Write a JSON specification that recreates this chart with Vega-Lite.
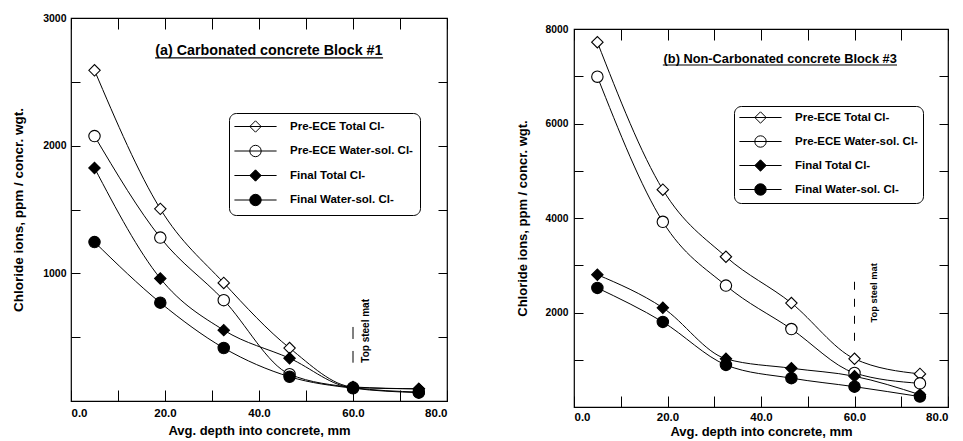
{
  "$schema": "https://vega.github.io/schema/vega-lite/v6.json",
  "background": "white",
  "padding": {"left": 11, "top": 12, "right": 0, "bottom": 0},
  "spacing": 66,
  "config": {
    "font": "Liberation Sans",
    "view": {"stroke": "black", "strokeWidth": 1.2},
    "axis": {
      "grid": false,
      "domain": false,
      "ticks": true,
      "tickColor": "black",
      "tickWidth": 1,
      "tickOpacity": 1,
      "labelColor": "black",
      "titleColor": "black",
      "labelFont": "Liberation Sans",
      "titleFont": "Liberation Sans",
      "labelFontWeight": "bold",
      "titleFontWeight": "bold",
      "zindex": 1
    },
    "legend": {
      "strokeColor": "black",
      "cornerRadius": 7,
      "padding": 7,
      "fillColor": "white",
      "labelFont": "Liberation Sans",
      "labelFontWeight": "bold",
      "labelFontSize": 11.5,
      "labelColor": "black",
      "symbolSize": 130,
      "rowPadding": 7.5,
      "symbolOffset": 13,
      "labelOffset": 28,
      "symbolStrokeWidth": 1,
      "symbolStrokeColor": "black"
    }
  },
  "datasets": {
    "chloride": [
      {"block": "a", "series": "Pre-ECE Total Cl-", "depth": 5, "chloride": 2590},
      {"block": "a", "series": "Pre-ECE Total Cl-", "depth": 19, "chloride": 1505},
      {"block": "a", "series": "Pre-ECE Total Cl-", "depth": 32.5, "chloride": 925},
      {"block": "a", "series": "Pre-ECE Total Cl-", "depth": 46.5, "chloride": 415},
      {"block": "a", "series": "Pre-ECE Total Cl-", "depth": 60, "chloride": 110},
      {"block": "a", "series": "Pre-ECE Total Cl-", "depth": 74, "chloride": 95},
      {"block": "a", "series": "Pre-ECE Water-sol. Cl-", "depth": 5, "chloride": 2075},
      {"block": "a", "series": "Pre-ECE Water-sol. Cl-", "depth": 19, "chloride": 1280},
      {"block": "a", "series": "Pre-ECE Water-sol. Cl-", "depth": 32.5, "chloride": 790},
      {"block": "a", "series": "Pre-ECE Water-sol. Cl-", "depth": 46.5, "chloride": 210},
      {"block": "a", "series": "Pre-ECE Water-sol. Cl-", "depth": 60, "chloride": 105},
      {"block": "a", "series": "Pre-ECE Water-sol. Cl-", "depth": 74, "chloride": 70},
      {"block": "a", "series": "Final Total Cl-", "depth": 5, "chloride": 1825},
      {"block": "a", "series": "Final Total Cl-", "depth": 19, "chloride": 960},
      {"block": "a", "series": "Final Total Cl-", "depth": 32.5, "chloride": 555},
      {"block": "a", "series": "Final Total Cl-", "depth": 46.5, "chloride": 335},
      {"block": "a", "series": "Final Total Cl-", "depth": 60, "chloride": 105},
      {"block": "a", "series": "Final Total Cl-", "depth": 74, "chloride": 95},
      {"block": "a", "series": "Final Water-sol. Cl-", "depth": 5, "chloride": 1245},
      {"block": "a", "series": "Final Water-sol. Cl-", "depth": 19, "chloride": 770},
      {"block": "a", "series": "Final Water-sol. Cl-", "depth": 32.5, "chloride": 415},
      {"block": "a", "series": "Final Water-sol. Cl-", "depth": 46.5, "chloride": 190},
      {"block": "a", "series": "Final Water-sol. Cl-", "depth": 60, "chloride": 100},
      {"block": "a", "series": "Final Water-sol. Cl-", "depth": 74, "chloride": 65},
      {"block": "b", "series": "Pre-ECE Total Cl-", "depth": 5, "chloride": 7720},
      {"block": "b", "series": "Pre-ECE Total Cl-", "depth": 19, "chloride": 4600},
      {"block": "b", "series": "Pre-ECE Total Cl-", "depth": 32.5, "chloride": 3180},
      {"block": "b", "series": "Pre-ECE Total Cl-", "depth": 46.5, "chloride": 2200},
      {"block": "b", "series": "Pre-ECE Total Cl-", "depth": 60, "chloride": 1020},
      {"block": "b", "series": "Pre-ECE Total Cl-", "depth": 74, "chloride": 700},
      {"block": "b", "series": "Pre-ECE Water-sol. Cl-", "depth": 5, "chloride": 6990},
      {"block": "b", "series": "Pre-ECE Water-sol. Cl-", "depth": 19, "chloride": 3920},
      {"block": "b", "series": "Pre-ECE Water-sol. Cl-", "depth": 32.5, "chloride": 2570},
      {"block": "b", "series": "Pre-ECE Water-sol. Cl-", "depth": 46.5, "chloride": 1650},
      {"block": "b", "series": "Pre-ECE Water-sol. Cl-", "depth": 60, "chloride": 720},
      {"block": "b", "series": "Pre-ECE Water-sol. Cl-", "depth": 74, "chloride": 500},
      {"block": "b", "series": "Final Total Cl-", "depth": 5, "chloride": 2800},
      {"block": "b", "series": "Final Total Cl-", "depth": 19, "chloride": 2100},
      {"block": "b", "series": "Final Total Cl-", "depth": 32.5, "chloride": 1020},
      {"block": "b", "series": "Final Total Cl-", "depth": 46.5, "chloride": 820},
      {"block": "b", "series": "Final Total Cl-", "depth": 60, "chloride": 650},
      {"block": "b", "series": "Final Total Cl-", "depth": 74, "chloride": 260},
      {"block": "b", "series": "Final Water-sol. Cl-", "depth": 5, "chloride": 2520},
      {"block": "b", "series": "Final Water-sol. Cl-", "depth": 19, "chloride": 1800},
      {"block": "b", "series": "Final Water-sol. Cl-", "depth": 32.5, "chloride": 890},
      {"block": "b", "series": "Final Water-sol. Cl-", "depth": 46.5, "chloride": 610},
      {"block": "b", "series": "Final Water-sol. Cl-", "depth": 60, "chloride": 430},
      {"block": "b", "series": "Final Water-sol. Cl-", "depth": 74, "chloride": 220}
    ]
  },
  "hconcat": [
    {
      "width": 376,
      "height": 383,
      "data": {"name": "chloride"},
      "layer": [
        {
          "transform": [{"filter": "datum.block == 'a'"}],
          "mark": {"type": "line", "interpolate": "monotone", "color": "black", "strokeWidth": 1},
          "encoding": {
            "x": {"field": "depth", "type": "quantitative", "scale": {"domain": [0, 80]},
              "axis": {"orient": "bottom", "values": [0, 10, 20, 30, 40, 50, 60, 70, 80], "tickSize": -11,
                "labelExpr": "datum.value % 20 === 0 ? format(datum.value, '.1f') : ''",
                "encode": {"ticks": {"update": {"y2": {"signal": "datum.value % 20 === 0 ? -11 : -5"}}}},
                "labelFontSize": 11.5, "labelPadding": 17, "title": "Avg. depth into concrete,  mm", "titleFontSize": 13, "titlePadding": 6}},
            "y": {"field": "chloride", "type": "quantitative", "scale": {"domain": [0, 3000]},
              "axis": {"orient": "left", "values": [0, 500, 1000, 1500, 2000, 2500, 3000], "tickSize": -9,
                "labelExpr": "datum.value % 1000 === 0 && datum.value > 0 ? format(datum.value, 'd') : ''",
                "encode": {"ticks": {"update": {"x2": {"signal": "datum.value % 1000 === 0 ? 9 : 6"}}}},
                "labelFontSize": 10.5, "labelPadding": 14, "title": "Chloride ions, ppm / concr. wgt.", "titleFontSize": 13.5, "titlePadding": 17}},
            "detail": {"field": "series", "type": "nominal"}
          }
        },
        {
          "transform": [{"filter": "datum.block == 'a'"}],
          "mark": {"type": "point", "stroke": "black", "strokeWidth": 1.1, "size": 130, "opacity": 1, "fillOpacity": 1},
          "encoding": {
            "x": {"field": "depth", "type": "quantitative",
              "axis": {"orient": "top", "values": [0, 10, 20, 30, 40, 50, 60, 70, 80], "tickSize": -11, "labels": false, "title": null,
                "encode": {"ticks": {"update": {"y2": {"signal": "datum.value % 20 === 0 ? 11 : 6"}}}}}},
            "y": {"field": "chloride", "type": "quantitative",
              "axis": {"orient": "right", "values": [0, 500, 1000, 1500, 2000, 2500, 3000], "tickSize": -9, "labels": false, "title": null,
                "encode": {"ticks": {"update": {"x2": {"signal": "datum.value % 1000 === 0 ? -9 : -6"}}}}}},
            "shape": {"field": "series", "type": "nominal", "legend": null,
              "scale": {"domain": ["Pre-ECE Total Cl-", "Pre-ECE Water-sol. Cl-", "Final Total Cl-", "Final Water-sol. Cl-"], "range": ["diamond", "circle", "diamond", "circle"]}},
            "fill": {"field": "series", "type": "nominal", "legend": null,
              "scale": {"domain": ["Pre-ECE Total Cl-", "Pre-ECE Water-sol. Cl-", "Final Total Cl-", "Final Water-sol. Cl-"], "range": ["white", "white", "black", "black"]}}
          }
        },
        {
          "transform": [{"filter": "false"}],
          "mark": {"type": "point", "strokeWidth": 1, "opacity": 1, "fillOpacity": 1},
          "encoding": {
            "x": {"field": "depth", "type": "quantitative", "axis": null},
            "y": {"field": "chloride", "type": "quantitative", "axis": null},
            "shape": {"field": "series", "type": "nominal",
              "scale": {"domain": ["Pre-ECE Total Cl-", "Pre-ECE Water-sol. Cl-", "Final Total Cl-", "Final Water-sol. Cl-"],
                "range": ["M-3.7,0L3.7,0M-1,0L0,-1L1,0L0,1Z", "M-3.7,0L3.7,0M-1,0A1,1,0,1,1,1,0A1,1,0,1,1,-1,0Z", "M-3.7,0L3.7,0M-1,0L0,-1L1,0L0,1Z", "M-3.7,0L3.7,0M-1,0A1,1,0,1,1,1,0A1,1,0,1,1,-1,0Z"]},
              "legend": {"title": null, "orient": "none", "legendX": 158, "legendY": 95}},
            "fill": {"field": "series", "type": "nominal",
              "scale": {"domain": ["Pre-ECE Total Cl-", "Pre-ECE Water-sol. Cl-", "Final Total Cl-", "Final Water-sol. Cl-"], "range": ["white", "white", "black", "black"]},
              "legend": {"title": null, "orient": "none", "legendX": 158, "legendY": 95}},
            "stroke": {"field": "series", "type": "nominal",
              "scale": {"domain": ["Pre-ECE Total Cl-", "Pre-ECE Water-sol. Cl-", "Final Total Cl-", "Final Water-sol. Cl-"], "range": ["black", "black", "black", "black"]},
              "legend": {"title": null, "orient": "none", "legendX": 158, "legendY": 95}}
          }
        },
        {
          "data": {"values": [{}]},
          "mark": {"type": "rule", "color": "black", "strokeWidth": 1.2},
          "encoding": {
            "x": {"datum": 17.9, "type": "quantitative", "axis": null},
            "x2": {"datum": 66.4},
            "y": {"datum": 2688, "type": "quantitative", "axis": null}
          }
        },
        {
          "data": {"values": [{}]},
          "mark": {"type": "rule", "color": "black", "strokeWidth": 1, "strokeDash": [12, 12]},
          "encoding": {
            "x": {"datum": 60, "type": "quantitative", "axis": null},
            "y": {"datum": 580, "type": "quantitative", "axis": null},
            "y2": {"datum": 300}
          }
        },
        {
          "data": {"values": [{"label": "(a) Carbonated concrete Block #1"}]},
          "mark": {"type": "text", "font": "Liberation Sans", "fontSize": 14.3, "fontWeight": "bold", "align": "center", "baseline": "alphabetic", "color": "black"},
          "encoding": {
            "x": {"datum": 42.1, "type": "quantitative", "axis": null},
            "y": {"datum": 2707, "type": "quantitative", "axis": null},
            "text": {"field": "label"}
          }
        },
        {
          "data": {"values": [{"label": "Top steel mat"}]},
          "mark": {"type": "text", "font": "Liberation Sans", "fontSize": 10, "fontWeight": "bold", "angle": 270, "align": "left", "baseline": "middle", "color": "black"},
          "encoding": {
            "x": {"datum": 62.8, "type": "quantitative", "axis": null},
            "y": {"datum": 300, "type": "quantitative", "axis": null},
            "text": {"field": "label"}
          }
        }
      ],
      "resolve": {
        "scale": {"shape": "independent", "fill": "independent", "stroke": "independent"},
        "axis": {"x": "independent", "y": "independent"}
      }
    },
    {
      "spacing": 0,
      "vconcat": [
        {
          "width": 374,
          "height": 5,
          "view": {"stroke": null},
          "data": {"values": []},
          "mark": "point"
        },
        {
          "width": 374,
          "height": 378,
          "data": {"name": "chloride"},
          "layer": [
            {
              "transform": [{"filter": "datum.block == 'b'"}],
              "mark": {"type": "line", "interpolate": "monotone", "color": "black", "strokeWidth": 1},
              "encoding": {
                "x": {"field": "depth", "type": "quantitative", "scale": {"domain": [0, 80]},
                  "axis": {"orient": "bottom", "values": [0, 10, 20, 30, 40, 50, 60, 70, 80], "tickSize": -11,
                    "labelExpr": "datum.value % 20 === 0 ? format(datum.value, '.1f') : ''",
                    "encode": {"ticks": {"update": {"y2": {"signal": "datum.value % 20 === 0 ? -11 : -5"}}}},
                    "labelFontSize": 11.5, "labelPadding": 15, "title": "Avg. depth into concrete,  mm", "titleFontSize": 13, "titlePadding": 3}},
                "y": {"field": "chloride", "type": "quantitative", "scale": {"domain": [0, 8000]},
                  "axis": {"orient": "left", "values": [0, 1000, 2000, 3000, 4000, 5000, 6000, 7000, 8000], "tickSize": -9,
                    "labelExpr": "datum.value % 2000 === 0 && datum.value > 0 ? format(datum.value, 'd') : ''",
                    "encode": {"ticks": {"update": {"x2": {"signal": "datum.value % 2000 === 0 ? 9 : 6"}}}},
                    "labelFontSize": 10.3, "labelPadding": 15, "title": "Chloride ions,  ppm / concr. wgt.", "titleFontSize": 13, "titlePadding": 16}},
                "detail": {"field": "series", "type": "nominal"}
              }
            },
            {
              "transform": [{"filter": "datum.block == 'b'"}],
              "mark": {"type": "point", "stroke": "black", "strokeWidth": 1.1, "size": 130, "opacity": 1, "fillOpacity": 1},
              "encoding": {
                "x": {"field": "depth", "type": "quantitative",
                  "axis": {"orient": "top", "values": [0, 10, 20, 30, 40, 50, 60, 70, 80], "tickSize": -11, "labels": false, "title": null,
                    "encode": {"ticks": {"update": {"y2": {"signal": "datum.value % 20 === 0 ? 11 : 6"}}}}}},
                "y": {"field": "chloride", "type": "quantitative",
                  "axis": {"orient": "right", "values": [0, 1000, 2000, 3000, 4000, 5000, 6000, 7000, 8000], "tickSize": -9, "labels": false, "title": null,
                    "encode": {"ticks": {"update": {"x2": {"signal": "datum.value % 2000 === 0 ? -9 : -6"}}}}}},
                "shape": {"field": "series", "type": "nominal", "legend": null,
                  "scale": {"domain": ["Pre-ECE Total Cl-", "Pre-ECE Water-sol. Cl-", "Final Total Cl-", "Final Water-sol. Cl-"], "range": ["diamond", "circle", "diamond", "circle"]}},
                "fill": {"field": "series", "type": "nominal", "legend": null,
                  "scale": {"domain": ["Pre-ECE Total Cl-", "Pre-ECE Water-sol. Cl-", "Final Total Cl-", "Final Water-sol. Cl-"], "range": ["white", "white", "black", "black"]}}
              }
            },
            {
              "transform": [{"filter": "false"}],
              "mark": {"type": "point", "strokeWidth": 1, "opacity": 1, "fillOpacity": 1},
              "encoding": {
                "x": {"field": "depth", "type": "quantitative", "axis": null},
                "y": {"field": "chloride", "type": "quantitative", "axis": null},
                "shape": {"field": "series", "type": "nominal",
                  "scale": {"domain": ["Pre-ECE Total Cl-", "Pre-ECE Water-sol. Cl-", "Final Total Cl-", "Final Water-sol. Cl-"],
                    "range": ["M-3.7,0L3.7,0M-1,0L0,-1L1,0L0,1Z", "M-3.7,0L3.7,0M-1,0A1,1,0,1,1,1,0A1,1,0,1,1,-1,0Z", "M-3.7,0L3.7,0M-1,0L0,-1L1,0L0,1Z", "M-3.7,0L3.7,0M-1,0A1,1,0,1,1,1,0A1,1,0,1,1,-1,0Z"]},
                  "legend": {"title": null, "orient": "none", "legendX": 160, "legendY": 77, "padding": 5, "rowPadding": 7, "symbolOffset": 15}},
                "fill": {"field": "series", "type": "nominal",
                  "scale": {"domain": ["Pre-ECE Total Cl-", "Pre-ECE Water-sol. Cl-", "Final Total Cl-", "Final Water-sol. Cl-"], "range": ["white", "white", "black", "black"]},
                  "legend": {"title": null, "orient": "none", "legendX": 160, "legendY": 77, "padding": 5, "rowPadding": 7, "symbolOffset": 15}},
                "stroke": {"field": "series", "type": "nominal",
                  "scale": {"domain": ["Pre-ECE Total Cl-", "Pre-ECE Water-sol. Cl-", "Final Total Cl-", "Final Water-sol. Cl-"], "range": ["black", "black", "black", "black"]},
                  "legend": {"title": null, "orient": "none", "legendX": 160, "legendY": 77, "padding": 5, "rowPadding": 7, "symbolOffset": 15}}
              }
            },
            {
              "data": {"values": [{}]},
              "mark": {"type": "rule", "color": "black", "strokeWidth": 1.2},
              "encoding": {
                "x": {"datum": 19.0, "type": "quantitative", "axis": null},
                "x2": {"datum": 69.1},
                "y": {"datum": 7238, "type": "quantitative", "axis": null}
              }
            },
            {
              "data": {"values": [{}]},
              "mark": {"type": "rule", "color": "black", "strokeWidth": 1, "strokeDash": [8, 9]},
              "encoding": {
                "x": {"datum": 60, "type": "quantitative", "axis": null},
                "y": {"datum": 2650, "type": "quantitative", "axis": null},
                "y2": {"datum": 1400}
              }
            },
            {
              "data": {"values": [{"label": "(b) Non-Carbonated concrete Block #3"}]},
              "mark": {"type": "text", "font": "Liberation Sans", "fontSize": 12.8, "fontWeight": "bold", "align": "center", "baseline": "alphabetic", "color": "black"},
              "encoding": {
                "x": {"datum": 44.1, "type": "quantitative", "axis": null},
                "y": {"datum": 7280, "type": "quantitative", "axis": null},
                "text": {"field": "label"}
              }
            },
            {
              "data": {"values": [{"label": "Top steel mat"}]},
              "mark": {"type": "text", "font": "Liberation Sans", "fontSize": 9.3, "fontWeight": "bold", "angle": 270, "align": "left", "baseline": "middle", "color": "black"},
              "encoding": {
                "x": {"datum": 64.2, "type": "quantitative", "axis": null},
                "y": {"datum": 1790, "type": "quantitative", "axis": null},
                "text": {"field": "label"}
              }
            }
          ],
          "resolve": {
            "scale": {"shape": "independent", "fill": "independent", "stroke": "independent"},
            "axis": {"x": "independent", "y": "independent"}
          }
        }
      ],
      "resolve": {
        "scale": {"shape": "independent", "fill": "independent", "stroke": "independent"}
      }
    }
  ],
  "resolve": {
    "scale": {"x": "independent", "y": "independent", "shape": "independent", "fill": "independent", "stroke": "independent"}
  }
}
